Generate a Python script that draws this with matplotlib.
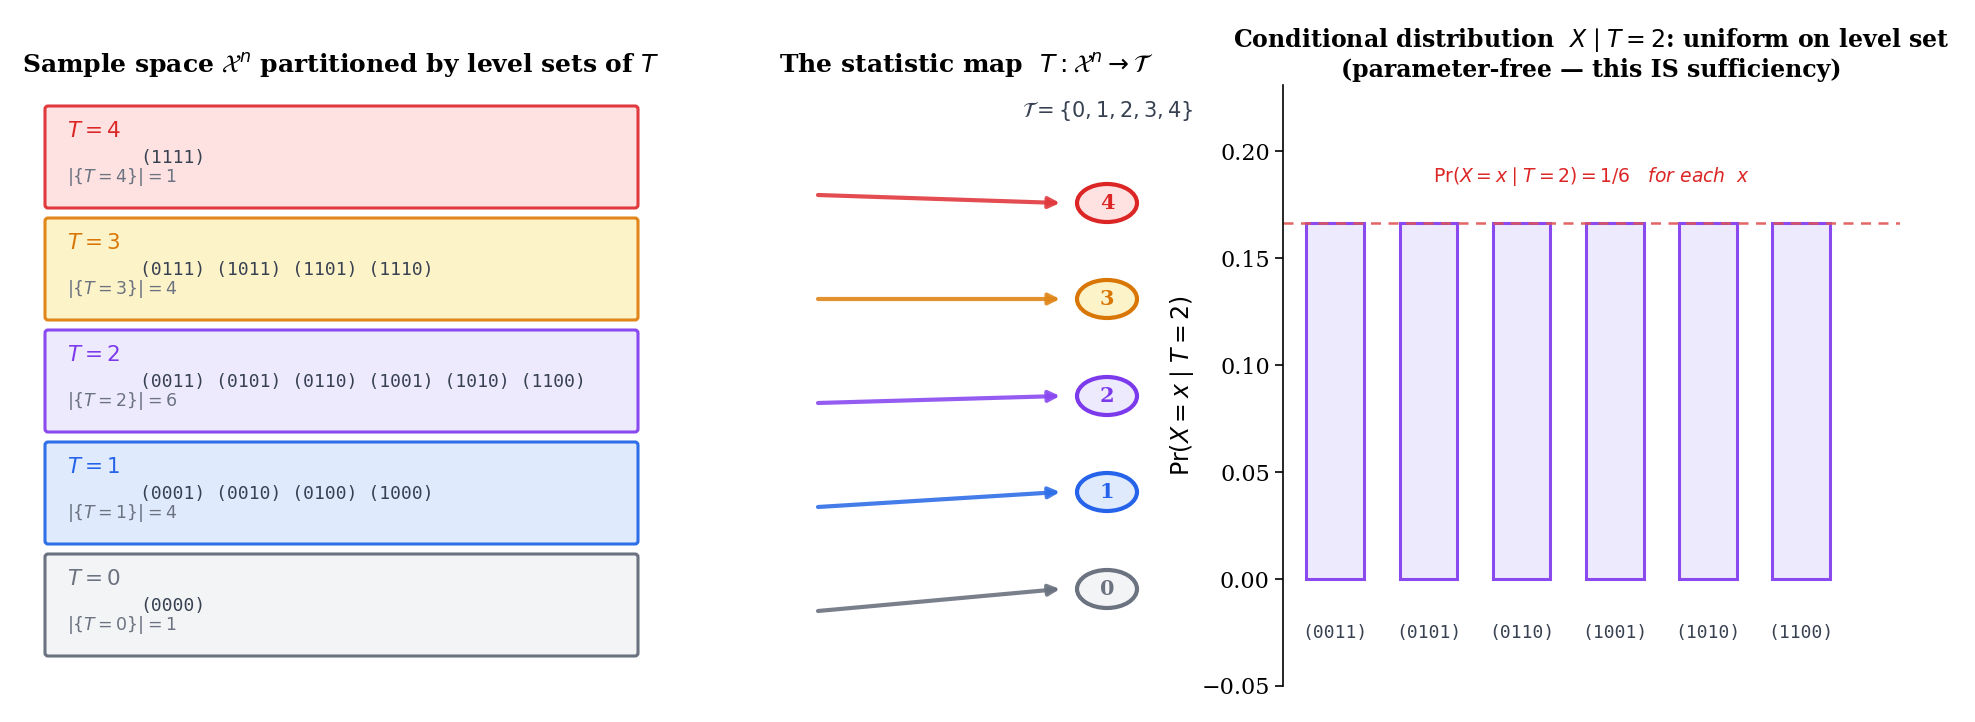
import matplotlib
matplotlib.use("Agg")
import matplotlib.pyplot as plt
from matplotlib.patches import FancyBboxPatch, Ellipse

W, H = 1975, 722
levels = [4, 3, 2, 1, 0]
members = {4: ["1111"], 3: ["0111", "1011", "1101", "1110"],
           2: ["0011", "0101", "0110", "1001", "1010", "1100"],
           1: ["0001", "0010", "0100", "1000"], 0: ["0000"]}
edge_cols = {4: "#e03a3e", 3: "#e0861a", 2: "#8a4af0", 1: "#2f6fe8", 0: "#6b7280"}
face_cols = {4: "#fee2e2", 3: "#fdf3c9", 2: "#eeeafd", 1: "#dfebfd", 0: "#f3f4f6"}
text_cols = {4: "#dc2626", 3: "#d97706", 2: "#7c3aed", 1: "#2563eb", 0: "#6b7280"}
bar_labels = ["(0011)", "(0101)", "(0110)", "(1001)", "(1010)", "(1100)"]
bar_values = [1/6] * 6

fig = plt.figure(figsize=(W/100, H/100), dpi=100)

def ax_px(x0, y0, x1, y1):
    return fig.add_axes([x0/W, 1-y1/H, (x1-x0)/W, (y1-y0)/H])

# Left panel: pixel coordinates
axL = ax_px(0, 0, 700, 722)
axL.set_xlim(0, 700); axL.set_ylim(722, 0); axL.axis("off")
axL.text(341, 66, r"Sample space $\mathcal{X}^n$ partitioned by level sets of $T$",
         ha="center", va="center", fontsize=18, fontweight="bold", family="DejaVu Serif")
for i, t in enumerate(levels):
    top = 106 + i*112
    axL.add_patch(FancyBboxPatch((45, top), 593, 102, boxstyle="round,pad=0,rounding_size=3",
                                 fc=face_cols[t], ec=edge_cols[t], lw=2.2))
    axL.text(67, top+25, rf"$T = {t}$", color=text_cols[t], fontsize=15.5, va="center")
    axL.text(140, top+52, " ".join(f"({m})" for m in members[t]), family="DejaVu Sans Mono",
             fontsize=13, color="#374151", va="center")
    axL.text(67, top+71, rf"$|\{{T={t}\}}| = {len(members[t])}$", color="#6b7280",
             fontsize=12.5, va="center")

# Middle panel
axM = ax_px(700, 0, 1240, 722)
axM.set_xlim(700, 1240); axM.set_ylim(722, 0); axM.axis("off")
axM.text(966, 66, r"The statistic map  $T:\mathcal{X}^n \rightarrow \mathcal{T}$",
         ha="center", va="center", fontsize=18, fontweight="bold", family="DejaVu Serif")
axM.text(1108, 111, r"$\mathcal{T} = \{0, 1, 2, 3, 4\}$", ha="center", va="center",
         fontsize=15, color="#374151")
starts = [195, 299, 403, 507, 611]
ends = [203, 299, 396, 492, 589]
for i, t in enumerate(levels):
    axM.annotate("", xy=(1060, ends[i]), xytext=(818, starts[i]),
                 arrowprops=dict(arrowstyle="-|>", color=edge_cols[t], lw=3, alpha=0.9,
                                 mutation_scale=16, shrinkA=0, shrinkB=0))
    axM.add_patch(Ellipse((1107, ends[i]), 60, 38, fc=face_cols[t], ec=text_cols[t], lw=3))
    axM.text(1107, ends[i], str(t), ha="center", va="center", color=text_cols[t],
             fontsize=15, fontweight="bold", family="DejaVu Serif")

# Right panel
axR = ax_px(1283, 85, 1900, 686)
x = list(range(len(bar_values)))
axR.bar(x, bar_values, width=0.62, color="#eeeafd", edgecolor="#8a4af0", lw=2.2)
axR.axhline(1/6, color="#e05555", ls=(0, (4, 3)), lw=1.8, alpha=0.9)
axR.set_xlim(-0.56, 6.06)
axR.set_ylim(-0.05, 0.231)
axR.set_xticks([])
axR.set_yticks([-0.05, 0, 0.05, 0.10, 0.15, 0.20])
axR.set_yticklabels(["−0.05", "0.00", "0.05", "0.10", "0.15", "0.20"], family="DejaVu Serif", fontsize=16)
axR.tick_params(axis="y", length=6, width=1.2)
for s in ["top", "right", "bottom"]:
    axR.spines[s].set_visible(False)
axR.spines["left"].set_linewidth(1.2)
for xi, lab in zip(x, bar_labels):
    axR.text(xi, -0.025, lab, ha="center", va="center", family="DejaVu Sans Mono",
             fontsize=13, color="#374151")
axR.text(2.75, 0.188, r"$\Pr(X = x \mid T = 2) = 1/6$   $\it{for\ each}$  $x$", ha="center",
         va="center", color="#dc2626", fontsize=13.5, family="DejaVu Serif")
axR.set_ylabel(r"$\Pr(X = x \mid T = 2)$", fontsize=17)
axR.set_title("Conditional distribution  $X \\mid T = 2$: uniform on level set\n"
              "(parameter-free — this IS sufficiency)", fontsize=17, fontweight="bold",
              family="DejaVu Serif", pad=6)

fig.savefig("out.png", dpi=100)
